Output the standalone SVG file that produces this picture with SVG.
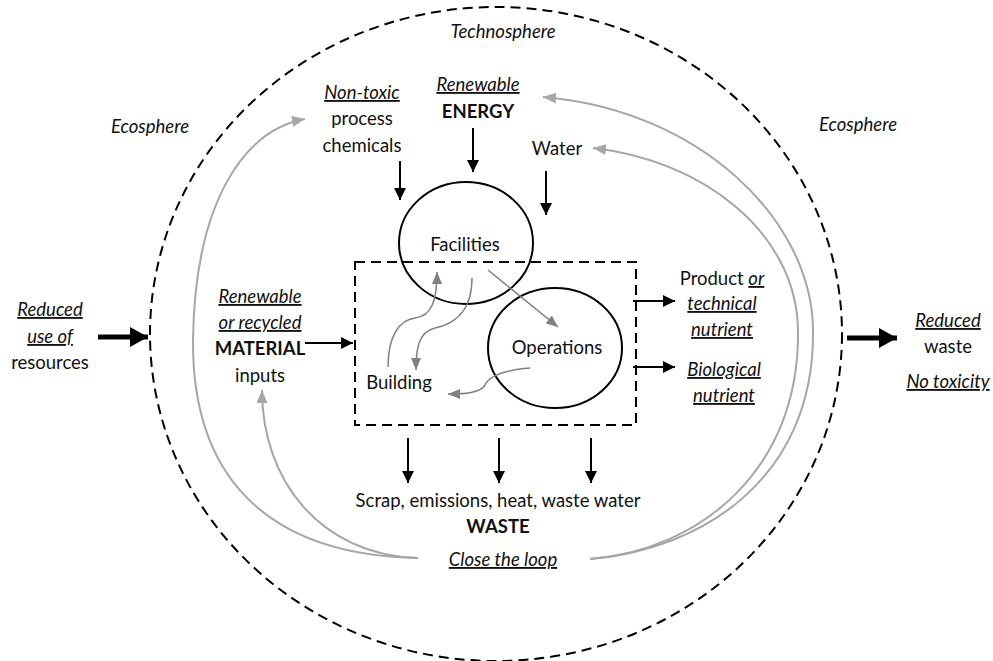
<svg xmlns="http://www.w3.org/2000/svg" width="993" height="661" viewBox="0 0 993 661">
<style>
text{font-family:Lato,"Liberation Sans",sans-serif;font-size:18.5px;fill:#111;text-anchor:middle}
.i{font-style:italic}
.u{text-decoration:underline}
.b{font-weight:bold}
.dash{fill:none;stroke:#000;stroke-width:2;stroke-dasharray:10,6}
.node{fill:none;stroke:#000;stroke-width:2}
.blk{stroke:#000;stroke-width:2;fill:none;marker-end:url(#ah)}
.big{stroke:#000;stroke-width:5;fill:none;marker-end:url(#bh)}
.loop{stroke:#a6a6a6;stroke-width:2;fill:none;marker-end:url(#lh)}
.inner{stroke:#808080;stroke-width:1.5;fill:none;marker-end:url(#ih)}
</style>
<defs>
<marker id="ah" viewBox="0 0 12 12" refX="12" refY="6" markerWidth="12" markerHeight="12" markerUnits="userSpaceOnUse" orient="auto"><path d="M0,0 L12,6 L0,12 z" fill="#000"/></marker>
<marker id="bh" viewBox="0 0 18 20" refX="18" refY="10" markerWidth="18" markerHeight="20" markerUnits="userSpaceOnUse" orient="auto"><path d="M0,0 L18,10 L0,20 z" fill="#000"/></marker>
<marker id="lh" viewBox="0 0 13 11" refX="13" refY="5.5" markerWidth="13" markerHeight="11" markerUnits="userSpaceOnUse" orient="auto"><path d="M0,0 L13,5.5 L0,11 z" fill="#a6a6a6"/></marker>
<marker id="ih" viewBox="0 0 12 10" refX="12" refY="5" markerWidth="12" markerHeight="10" markerUnits="userSpaceOnUse" orient="auto"><path d="M0,0 L12,5 L0,10 z" fill="#808080"/></marker>
</defs>
<rect width="993" height="661" fill="#fff"/>

<g id="technosphere">
<ellipse class="dash" cx="496" cy="334" rx="346" ry="327"/>
<text class="i" x="503" y="38">Technosphere</text>
</g>
<g id="ecosphere-left"><text class="i" x="150" y="133">Ecosphere</text></g>
<g id="ecosphere-right"><text class="i" x="858" y="131">Ecosphere</text></g>

<g id="system-boundary"><rect class="dash" x="355" y="262" width="281" height="163" stroke-dasharray="8,5"/></g>

<g id="facilities">
<ellipse class="node" cx="466" cy="243" rx="67" ry="61"/>
<text x="465" y="251">Facilities</text>
</g>
<g id="operations">
<ellipse class="node" cx="555" cy="348" rx="67" ry="60"/>
<text x="557" y="354">Operations</text>
</g>
<g id="building"><text x="399" y="389">Building</text></g>

<g id="chemicals">
<text class="i u" x="362" y="99">Non-toxic</text>
<text x="362" y="125">process</text>
<text x="362" y="152">chemicals</text>
</g>
<g id="energy">
<text class="i u" x="478" y="91">Renewable</text>
<text class="b" x="478" y="118">ENERGY</text>
</g>
<g id="water"><text x="557" y="155">Water</text></g>

<g id="resources">
<text class="i u" x="50" y="316">Reduced</text>
<text class="i u" x="50" y="343">use of</text>
<text x="50" y="369">resources</text>
</g>
<g id="material">
<text class="i u" x="260" y="303">Renewable</text>
<text class="i u" x="260" y="329">or recycled</text>
<text class="b" x="260" y="355">MATERIAL</text>
<text x="260" y="382">inputs</text>
</g>
<g id="product">
<text x="722" y="285">Product <tspan class="i u">or</tspan></text>
<text class="i u" x="722" y="310">technical</text>
<text class="i u" x="722" y="336">nutrient</text>
</g>
<g id="biological">
<text class="i u" x="724" y="376">Biological</text>
<text class="i u" x="724" y="402">nutrient</text>
</g>
<g id="reduced-waste">
<text class="i u" x="948" y="327">Reduced</text>
<text x="948" y="353">waste</text>
<text class="i u" x="948" y="388">No toxicity</text>
</g>
<g id="waste">
<text x="498" y="507">Scrap, emissions, heat, waste water</text>
<text class="b" x="498" y="533">WASTE</text>
</g>
<g id="close-loop"><text class="i u" x="503" y="566">Close the loop</text></g>

<g id="connectors">
<path class="blk" d="M400,161 L400,200"/>
<path class="blk" d="M473,128 L473,172"/>
<path class="blk" d="M546,171 L546,215"/>
<path class="blk" d="M305,343 L353,343"/>
<path class="blk" d="M633,301 L675,301"/>
<path class="blk" d="M633,367 L675,367"/>
<path class="blk" d="M408,438 L408,483"/>
<path class="blk" d="M499,438 L499,483"/>
<path class="blk" d="M591,438 L591,483"/>
<path class="big" d="M98,337 L148,337"/>
<path class="big" d="M847,338 L897,338"/>
<path class="inner" d="M388,367 C388,335 400,320 415,318 C432,316 437,300 437,272"/>
<path class="inner" d="M472,278 C472,315 450,325 435,328 C418,332 416,350 416,370"/>
<path class="inner" d="M488,270 L558,327"/>
<path class="inner" d="M530,368 C505,370 490,375 485,385 C480,393 465,394 448,394"/>
<path class="loop" d="M418,558 C260,555 192,470 193,340 C195,200 245,130 305,119"/>
<path class="loop" d="M418,558 C320,555 262,480 262,390"/>
<path class="loop" d="M590,559 C700,550 815,480 813,330 C812,220 700,110 543,97"/>
<path class="loop" d="M590,559 C700,550 800,470 798,330 C796,230 700,160 593,148"/>
</g>
</svg>
